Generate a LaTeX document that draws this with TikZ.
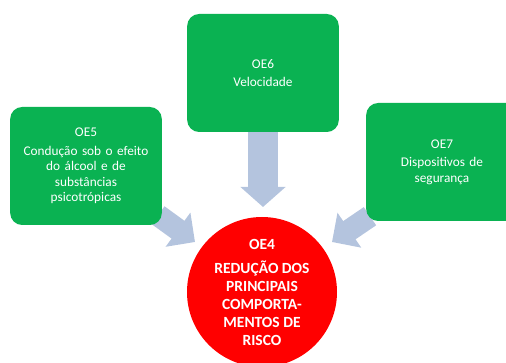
\documentclass[tikz,border=0pt]{standalone}
\usepackage{fontspec}
\setmainfont{Carlito}
\usetikzlibrary{arrows.meta,backgrounds}
\definecolor{oegreen}{RGB}{10,178,82}
\definecolor{oered}{RGB}{255,0,0}
\definecolor{oearrow}{RGB}{180,196,222}
\tikzset{
  oebox/.style={draw=none,fill=oegreen,rounded corners=12pt,minimum width=147pt,
    minimum height=118pt,text=white,align=center,text width=145pt,
    font=\fontsize{13.3}{15.5}\selectfont},
  oegoal/.style={circle,fill=oered,minimum size=150pt,inner sep=0pt,text=white,
    align=center,font=\bfseries\fontsize{15.5}{18}\selectfont},
  oelink/.style={oearrow,line width=22pt,-{Triangle[width=41pt,length=21pt]}}
}
\begin{document}
\begin{tikzpicture}[x=1pt,y=-1pt]
  \useasboundingbox (0,0) rectangle (506,363);
  \node[oebox] (oe6) at (263,73) {OE6\\[3pt]Velocidade};
  \node[oebox] (oe5) at (86,166) {OE5\\[3pt]Condução sob o efeito\\do álcool e de\\substâncias\\psicotrópicas};
  \node[oebox,minimum width=150pt] (oe7) at (442,162) {OE7\\[3pt]Dispositivos de\\segurança};
  \node[oegoal] (oe4) at (262,292) {OE4\\[6pt]REDUÇÃO DOS\\PRINCIPAIS\\COMPORTA-\\MENTOS DE\\RISCO};
  \coordinate (tip6) at (263,207);
  \coordinate (tip5) at (195,242);
  \coordinate (tip7) at (332,242);
  \begin{scope}[on background layer]
    \draw[oelink,line width=30pt,-{Triangle[width=44pt,length=20pt]}] (oe6.south) -- (tip6);
    \draw[oelink] ([shift={(-4,-10)}]oe5.south east) -- (tip5);
    \draw[oelink] ([shift={(4,-5)}]oe7.south west) -- (tip7);
  \end{scope}
\end{tikzpicture}
\end{document}
